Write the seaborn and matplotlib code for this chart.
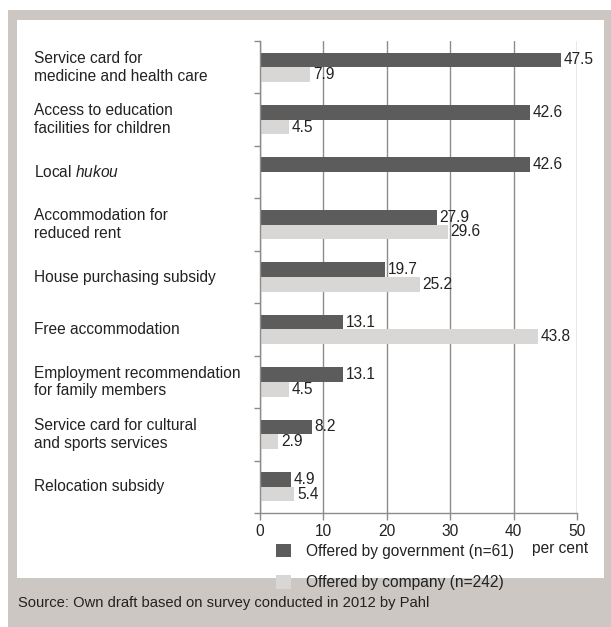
import matplotlib
matplotlib.use("Agg")
import matplotlib.pyplot as plt
import matplotlib.transforms as mtransforms
from matplotlib.patches import Rectangle
import seaborn as sns
import pandas as pd

# Benefits offered to high-skilled migrants
categories = [
    "Service card for\nmedicine and health care",
    "Access to education\nfacilities for children",
    "Local $\\mathit{hukou}$",
    "Accommodation for\nreduced rent",
    "House purchasing subsidy",
    "Free accommodation",
    "Employment recommendation\nfor family members",
    "Service card for cultural\nand sports services",
    "Relocation subsidy",
]
government = [47.5, 42.6, 42.6, 27.9, 19.7, 13.1, 13.1, 8.2, 4.9]
company = [7.9, 4.5, 0.0, 29.6, 25.2, 43.8, 4.5, 2.9, 5.4]
series_names = ["Offered by government (n=61)", "Offered by company (n=242)"]
xticks = [0, 10, 20, 30, 40, 50]

sns.set_theme(style="white")
plt.rcParams["font.family"] = ["Liberation Sans", "DejaVu Sans"]
plt.rcParams["mathtext.fontset"] = "custom"
plt.rcParams["mathtext.rm"] = "Liberation Sans"
plt.rcParams["mathtext.it"] = "Liberation Sans:italic"

FS = 11.2
TXT = "#222222"
GRID = "#8c8c8c"
FRAME = "#ccc7c2"

W, H = 611, 627
fig = plt.figure(figsize=(W / 100, H / 100), dpi=100)
fig.patch.set_facecolor("white")

# grey frame with a white inner panel
fig.patches.append(Rectangle((8 / W, 0), 1 - 8 / W, 1 - 10 / H, transform=fig.transFigure,
                             facecolor=FRAME, edgecolor="none", zorder=-10))
fig.patches.append(Rectangle((17 / W, 1 - 578 / H), (604 - 17) / W, (578 - 20) / H,
                             transform=fig.transFigure, facecolor="white",
                             edgecolor="none", zorder=-9))

ax = fig.add_axes([260 / W, 1 - 513 / H, (577 - 260) / W, (513 - 41) / H])
ax.patch.set_alpha(0)

df = pd.DataFrame({
    "benefit": categories * 2,
    "share": government + company,
    "offered": [series_names[0]] * len(categories) + [series_names[1]] * len(categories),
})

sns.barplot(data=df, y="benefit", x="share", hue="offered", order=categories,
            hue_order=series_names, palette=["#5c5c5c", "#d9d7d5"],
            orient="h", width=0.56, errorbar=None, ax=ax, saturation=1,
            linewidth=0, legend=True)

for cont in ax.containers:
    labels = [f"{v:.1f}" if v > 0 else "" for v in cont.datavalues]
    ax.bar_label(cont, labels=labels, padding=2, fontsize=FS, color=TXT)

ax.set_xlim(0, 50)
ax.set_ylim(len(categories) - 0.5, -0.5)
ax.set_xticks(xticks)
ax.set_xticklabels([str(t) for t in xticks], fontsize=FS, color=TXT)
ax.set_yticks([])
ax.set_yticks([i - 0.5 for i in range(len(categories) + 1)], minor=True)
ax.tick_params(axis="y", which="minor", left=True, length=4, color=GRID, width=1)
ax.tick_params(axis="x", bottom=True, length=5, color=GRID, width=1, pad=3)
ax.set_xlabel("")
ax.set_ylabel("")

ax.grid(axis="x", color=GRID, linewidth=1)
ax.set_axisbelow(True)
for side in ("top", "right"):
    ax.spines[side].set_visible(False)
for side in ("left", "bottom"):
    ax.spines[side].set_color(GRID)
    ax.spines[side].set_linewidth(1)

# category names, left aligned in the panel
trans = mtransforms.blended_transform_factory(fig.transFigure, ax.transData)
for i, name in enumerate(categories):
    ax.text(34 / W, i, name, transform=trans, ha="left", va="center",
            fontsize=FS, color=TXT, linespacing=1.22)

fig.text(560 / W, 1 - 548 / H, "per cent", ha="center", va="center",
         fontsize=FS, color=TXT)

handles, labels = ax.get_legend_handles_labels()
ax.legend(handles, labels, loc="upper left",
          bbox_to_anchor=(276 / W, 1 - 544 / H), bbox_transform=fig.transFigure,
          frameon=False, fontsize=FS, handlelength=0.95, handleheight=0.95,
          labelspacing=1.05, handletextpad=1.0, borderaxespad=0, borderpad=0)
for t in ax.get_legend().get_texts():
    t.set_color(TXT)

fig.text(18 / W, 1 - 603 / H, "Source: Own draft based on survey conducted in 2012 by Pahl",
         ha="left", va="center", fontsize=10.6, color=TXT)

fig.savefig("out.png", dpi=100)
